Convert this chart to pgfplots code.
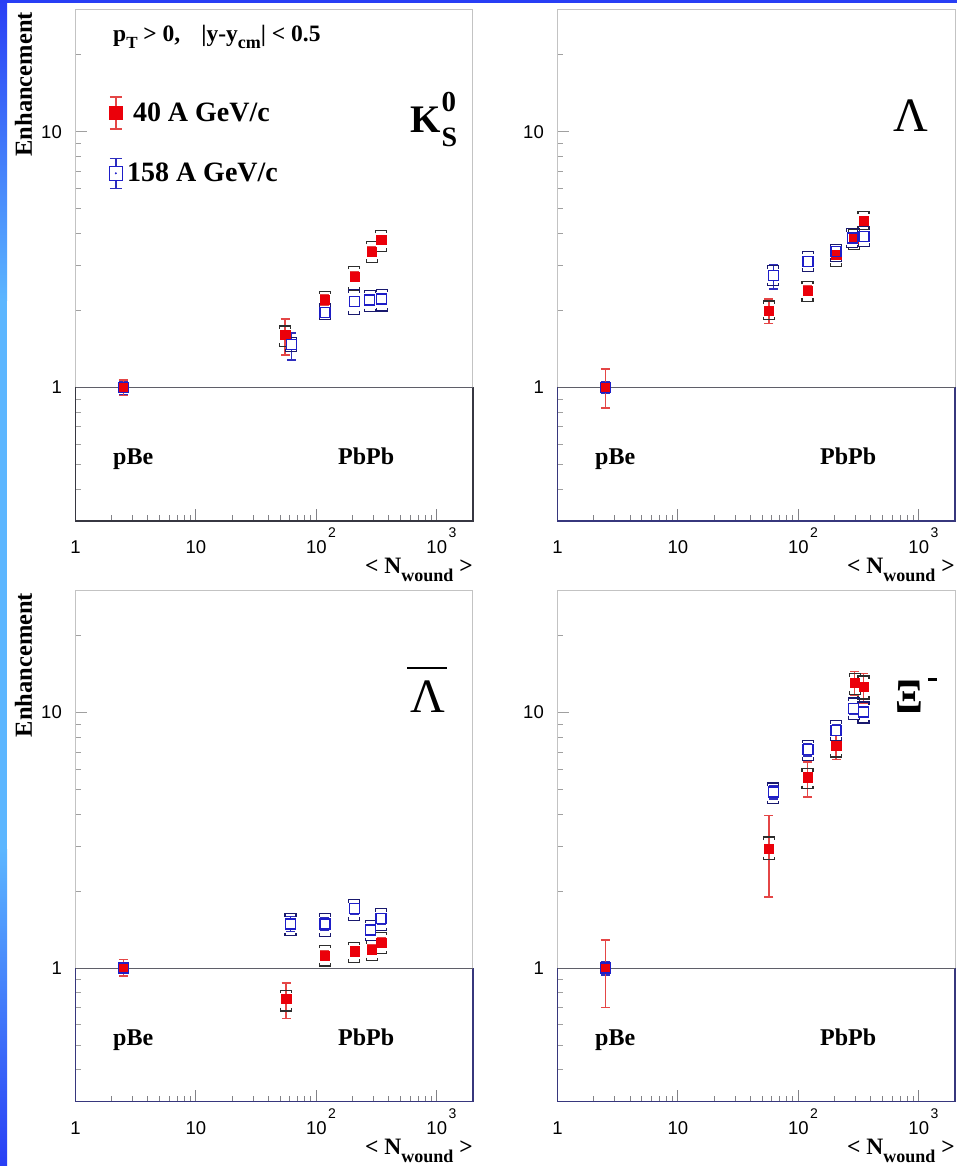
\documentclass[border=0pt]{standalone}
\usepackage{fontspec}
\setmainfont{Liberation Serif}
\setsansfont{Liberation Sans}
\usepackage{pgfplots}
\usepackage{pgfplotstable}
\pgfplotsset{compat=1.18}

\definecolor{datared}{RGB}{235,0,10}
\definecolor{errred}{RGB}{228,70,70}
\definecolor{datablue}{RGB}{30,30,200}
\definecolor{errblue}{RGB}{45,45,190}
\definecolor{sysgray}{RGB}{45,45,45}
\definecolor{sysnavy}{RGB}{25,25,110}
\definecolor{framegray}{RGB}{195,195,195}
\definecolor{tickgray}{RGB}{160,160,160}
\definecolor{xtickgray}{RGB}{130,130,135}
\definecolor{boxdark}{RGB}{55,55,65}
\definecolor{boxnavy}{RGB}{55,55,125}
\definecolor{unitline}{RGB}{95,95,105}
\definecolor{stripdark}{RGB}{40,62,245}
\definecolor{striplight}{RGB}{92,182,255}

% systematic-error brackets: cap opening downwards (upper) and upwards (lower)
\pgfdeclareplotmark{sysup}{%
  \pgfpathmoveto{\pgfqpoint{-\pgfplotmarksize}{-0.55\pgfplotmarksize}}%
  \pgfpathlineto{\pgfqpoint{-\pgfplotmarksize}{0pt}}%
  \pgfpathlineto{\pgfqpoint{\pgfplotmarksize}{0pt}}%
  \pgfpathlineto{\pgfqpoint{\pgfplotmarksize}{-0.55\pgfplotmarksize}}%
  \pgfusepathqstroke}
\pgfdeclareplotmark{sysdn}{%
  \pgfpathmoveto{\pgfqpoint{-\pgfplotmarksize}{0.55\pgfplotmarksize}}%
  \pgfpathlineto{\pgfqpoint{-\pgfplotmarksize}{0pt}}%
  \pgfpathlineto{\pgfqpoint{\pgfplotmarksize}{0pt}}%
  \pgfpathlineto{\pgfqpoint{\pgfplotmarksize}{0.55\pgfplotmarksize}}%
  \pgfusepathqstroke}

% columns: N_wound, enhancement, stat. error (+/-), systematic band (low/high)
% (the pBe reference row carries no systematic band)
\pgfplotstableread{
N y ep em lo hi
2.5 1.00 0.07 0.07 1 1
55 1.61 0.24 0.27 1.45 1.74
118 2.20 0.10 0.10 2.06 2.38
207 2.72 0.11 0.11 2.40 2.98
288 3.41 0.13 0.13 3.09 3.73
345 3.79 0.15 0.15 3.41 4.12
}\kzeroR
\pgfplotstableread{
N y ep em lo hi
2.5 1.00 0.06 0.06 1 1
62 1.47 0.16 0.19 1.38 1.57
118 1.97 0.08 0.08 1.84 2.12
207 2.17 0.08 0.08 1.93 2.41
278 2.20 0.07 0.07 1.98 2.40
350 2.22 0.07 0.07 1.99 2.42
}\kzeroB
\pgfplotstableread{
N y ep em lo hi
2.5 1.00 0.18 0.17 1 1
57 2.00 0.22 0.22 1.84 2.18
119 2.40 0.10 0.10 2.17 2.60
206 3.30 0.10 0.10 2.98 3.62
289 3.81 0.15 0.15 3.46 4.17
348 4.51 0.15 0.15 4.15 4.89
}\lamR
\pgfplotstableread{
N y ep em lo hi
2.5 1.00 0.05 0.05 1 1
62 2.74 0.28 0.31 2.50 3.00
120 3.11 0.12 0.12 2.85 3.41
206 3.40 0.10 0.10 3.12 3.62
280 3.84 0.10 0.10 3.52 4.18
350 3.90 0.10 0.10 3.56 4.26
}\lamB
\pgfplotstableread{
N y ep em lo hi
2.5 1.00 0.08 0.07 1 1
56 0.76 0.114 0.126 0.68 0.82
118 1.12 0.05 0.05 1.02 1.23
207 1.166 0.05 0.05 1.055 1.26
288 1.18 0.05 0.05 1.07 1.28
345 1.26 0.05 0.05 1.14 1.38
}\alamR
\pgfplotstableread{
N y ep em lo hi
2.5 1.00 0.05 0.05 1 1
61 1.49 0.10 0.10 1.34 1.63
118 1.49 0.08 0.08 1.33 1.63
207 1.71 0.08 0.08 1.54 1.85
283 1.41 0.06 0.06 1.28 1.54
345 1.56 0.07 0.07 1.40 1.71
}\alamB
\pgfplotstableread{
N y ep em lo hi
2.5 1.00 0.29 0.30 1 1
57 2.93 1.03 1.03 2.66 3.26
119 5.59 0.81 0.92 5.04 6.03
206 7.45 0.85 0.90 6.70 8.30
294 13.06 1.40 1.40 11.8 14.2
348 12.60 1.60 1.70 11.3 13.9
}\xiR
\pgfplotstableread{
N y ep em lo hi
2.5 1.00 0.06 0.06 1 1
62 4.89 0.30 0.30 4.40 5.30
120 7.16 0.40 0.40 6.50 7.80
206 8.53 0.40 0.40 7.80 9.30
289 10.37 0.50 0.50 9.40 11.40
348 10.05 0.50 0.50 9.10 11.00
}\xiB

\newcommand{\lab}{\fontsize{24}{26}\selectfont\bfseries}
\newcommand{\supx}[1]{10\rlap{\hspace{1.5pt}\raisebox{16pt}{\fontsize{14}{14}\selectfont #1}}}

% common look of the four panels
\pgfplotsset{
  every axis/.append style={
    xmode=log, ymode=log, scale only axis, anchor=south west,
    width=397.5pt, height=511pt,
    xmin=1, xmax=2000, ymin=0.3, ymax=30,
    xtick={1,10,100,1000}, xticklabels={1,10,{\supx{2}},{\supx{3}}},
    ytick={1,10}, yticklabels={1,10},
    minor xtick={2,3,4,5,6,7,8,9,20,30,40,50,60,70,80,90,200,300,400,500,600,700,800,900},
    minor ytick={0.4,0.5,0.6,0.7,0.8,0.9,2,3,4,5,6,7,8,9,20},
    tick pos=left, tick align=inside,
    major tick length=12pt, minor tick length=6pt,
    tick style={tickgray, line width=1pt},
    xtick style={xtickgray, line width=1pt},
    axis line style={framegray, line width=1pt},
    ticklabel style={font=\fontsize{18.5}{19}\selectfont\sffamily, text=black, inner sep=0pt},
    xticklabel style={anchor=base, yshift=-32.3pt},
    yticklabel style={anchor=east, xshift=-13.5pt},
    clip=false,
  },
}

% one panel: red = 40 A GeV/c, blue = 158 A GeV/c
\newcommand{\panelplots}[3]{%
  \draw[#3, line width=1.2pt] (axis cs:1,0.3) rectangle (axis cs:2000,1);
  \draw[unitline, line width=1.2pt] (axis cs:1,1) -- (axis cs:2000,1);
  \addplot[forget plot, only marks, mark size=5.5pt, line width=1.2pt, sysgray, mark=sysup, skip coords between index={0}{1}] table[x=N, y=hi] {#1};
  \addplot[forget plot, only marks, mark size=5.5pt, line width=1.2pt, sysgray, mark=sysdn, skip coords between index={0}{1}] table[x=N, y=lo] {#1};
  \addplot[forget plot, only marks, mark size=5.5pt, line width=1.2pt, sysnavy, mark=sysup, skip coords between index={0}{1}] table[x=N, y=hi] {#2};
  \addplot[forget plot, only marks, mark size=5.5pt, line width=1.2pt, sysnavy, mark=sysdn, skip coords between index={0}{1}] table[x=N, y=lo] {#2};
  \addplot[forget plot, only marks, datablue, mark=square*, mark size=5pt,
    mark options={fill=white, draw=datablue, line width=1.3pt},
    error bars/y dir=both, error bars/y explicit,
    error bars/error bar style={errblue, line width=1.4pt},
    error bars/error mark options={rotate=90, errblue, line width=1.4pt, mark size=4.5pt}]
    table[x=N, y=y, y error plus=ep, y error minus=em] {#2};
  \addplot[forget plot, only marks, datared, mark=square*, mark size=4.6pt,
    mark options={fill=datared, draw=datared, line width=0.2pt},
    error bars/y dir=both, error bars/y explicit,
    error bars/error bar style={errred, line width=1.4pt},
    error bars/error mark options={rotate=90, errred, line width=1.4pt, mark size=4.5pt}]
    table[x=N, y=y, y error plus=ep, y error minus=em] {#1};
  \addplot[forget plot, only marks, mark=square, mark size=5pt,
    mark options={draw=datablue, line width=1.3pt}] table[x=N, y=y] {#2};
  \node[anchor=base west, font=\lab, inner sep=0pt, xshift=37.5pt, yshift=-455pt] at (rel axis cs:0,1) {pBe};
  \node[anchor=base west, font=\lab, inner sep=0pt, xshift=262.5pt, yshift=-455pt] at (rel axis cs:0,1) {PbPb};
  \node[anchor=base east, inner sep=0pt, yshift=-53pt, font=\fontsize{23.5}{24}\selectfont\bfseries]
    at (rel axis cs:1,0) {<\hspace{6pt}N\raisebox{-8pt}{\fontsize{18}{18}\selectfont wound}\hspace{6pt}>};
}
\newcommand{\ylab}{%
  \node[rotate=90, anchor=base east, inner sep=0pt, xshift=-2pt, yshift=43.5pt,
    font=\fontsize{24.5}{25}\selectfont\bfseries] at (rel axis cs:0,1) {Enhancement};
}

\begin{document}
\begin{tikzpicture}
\path[use as bounding box, fill=white] (0pt,0pt) rectangle (957pt,1166pt);
% blue page margin
\shade[top color=striplight, bottom color=stripdark] (0pt,0pt) rectangle (7pt,316pt);
\fill[striplight] (0pt,315pt) rectangle (7pt,866pt);
\shade[top color=stripdark, bottom color=striplight] (0pt,865pt) rectangle (7pt,1166pt);
\fill[stripdark] (0pt,1163pt) rectangle (957pt,1166pt);

% K0S
\begin{axis}[at={(75.5pt,645pt)},
  legend style={at={(rel axis cs:0,1)}, anchor=north west, xshift=33pt, yshift=-86pt,
    draw=none, fill=none, inner sep=0pt, row sep=28pt,
    font=\fontsize{28}{30}\selectfont\bfseries},
  legend cell align=left]
\panelplots{\kzeroR}{\kzeroB}{boxdark}
\ylab
\node[anchor=base west, inner sep=0pt, xshift=37.5pt, yshift=-32pt, font=\fontsize{23.5}{24}\selectfont\bfseries]
  at (rel axis cs:0,1) {p\raisebox{-7pt}{\fontsize{17}{17}\selectfont T} > 0,\hspace{21pt}|y-y\raisebox{-7pt}{\fontsize{18}{18}\selectfont cm}| < 0.5};
\node[anchor=base west, inner sep=0pt, xshift=334.5pt, yshift=-123pt, font=\fontsize{39}{40}\selectfont\bfseries]
  at (rel axis cs:0,1) {K\rlap{\hspace{1pt}\raisebox{21pt}{\fontsize{29}{29}\selectfont 0}}\hspace{1pt}\raisebox{-14pt}{\fontsize{28}{28}\selectfont S}};
\addlegendimage{legend image code/.code={
  \draw[errred, line width=1.4pt] (6.5pt,-16pt) -- (6.5pt,16pt);
  \draw[errred, line width=1.4pt] (0.5pt,-16pt) -- (12.5pt,-16pt) (0.5pt,16pt) -- (12.5pt,16pt);
  \fill[datared] (0.3pt,-6.2pt) rectangle (12.7pt,6.2pt);}}
\addlegendentry{\hspace{8pt}40 A GeV/c}
\addlegendimage{legend image code/.code={
  \draw[errblue, line width=1.4pt] (6.5pt,-15pt) -- (6.5pt,15pt);
  \draw[errblue, line width=1.4pt] (0.5pt,-15pt) -- (12.5pt,-15pt) (0.5pt,15pt) -- (12.5pt,15pt);
  \draw[datablue, fill=white, line width=1.3pt] (0pt,-7pt) rectangle (13pt,7pt);
  \fill[datablue] (6.5pt,0pt) circle (0.8pt);}}
\addlegendentry{\hspace{2pt}158 A GeV/c}
\end{axis}

% Lambda
\begin{axis}[at={(557.5pt,645pt)}]
\panelplots{\lamR}{\lamB}{boxnavy}
\node[anchor=base west, inner sep=0pt, xshift=335.5pt, yshift=-122pt, font=\fontsize{48}{48}\selectfont]
  at (rel axis cs:0,1) {Λ};
\end{axis}

% anti-Lambda
\begin{axis}[at={(75.5pt,64.3pt)}]
\panelplots{\alamR}{\alamB}{boxnavy}
\ylab
\node[anchor=base west, inner sep=0pt, xshift=334.5pt, yshift=-122.3pt, font=\fontsize{48}{48}\selectfont]
  at (rel axis cs:0,1) {\rlap{\hspace{-3pt}\rule[43.5pt]{40pt}{2.5pt}}Λ};
\end{axis}

% Xi-
\begin{axis}[at={(557.5pt,64.3pt)}]
\panelplots{\xiR}{\xiB}{boxnavy}
\node[anchor=base west, inner sep=0pt, xshift=337.5pt, yshift=-122.3pt, font=\fontsize{48}{48}\selectfont\bfseries]
  at (rel axis cs:0,1) {\scalebox{0.85}[1]{Ξ}\hspace{5pt}\rule[31.5pt]{9pt}{3pt}};
\end{axis}
\end{tikzpicture}
\end{document}
